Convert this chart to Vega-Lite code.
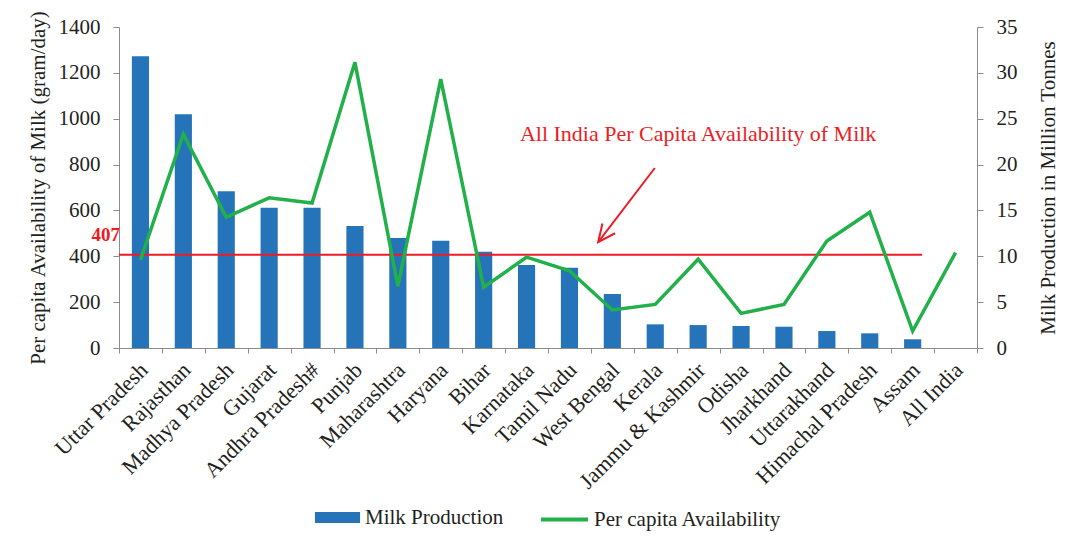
{
  "$schema": "https://vega.github.io/schema/vega-lite/v6.json",
  "width": 858,
  "height": 321,
  "autosize": {"type": "none"},
  "padding": {"left": 119, "top": 27, "right": 102, "bottom": 189},
  "background": "white",
  "config": {
    "view": {"stroke": null},
    "font": "Liberation Serif",
    "axis": {
      "labelFont": "Liberation Serif", "titleFont": "Liberation Serif",
      "labelFontSize": 21, "titleFontSize": 21, "titleFontWeight": "normal",
      "labelColor": "#231f20", "titleColor": "#231f20",
      "domainColor": "#8c8c8c", "tickColor": "#8c8c8c", "grid": false
    },
    "legend": {
      "labelFont": "Liberation Serif", "labelFontSize": 21, "labelColor": "#231f20", "labelLimit": 400,
      "layout": {"bottom": {"anchor": "middle", "direction": "horizontal", "margin": 35}}
    }
  },
  "datasets": {
    "states": [
      {"state": "Uttar Pradesh", "milk": 31.8, "pc": 384},
      {"state": "Rajasthan", "milk": 25.5, "pc": 932},
      {"state": "Madhya Pradesh", "milk": 17.1, "pc": 570},
      {"state": "Gujarat", "milk": 15.3, "pc": 655},
      {"state": "Andhra Pradesh#", "milk": 15.3, "pc": 632},
      {"state": "Punjab", "milk": 13.3, "pc": 1246},
      {"state": "Maharashtra", "milk": 12.0, "pc": 270},
      {"state": "Haryana", "milk": 11.7, "pc": 1173},
      {"state": "Bihar", "milk": 10.5, "pc": 265},
      {"state": "Karnataka", "milk": 9.05, "pc": 396},
      {"state": "Tamil Nadu", "milk": 8.76, "pc": 337},
      {"state": "West Bengal", "milk": 5.9, "pc": 166},
      {"state": "Kerala", "milk": 2.58, "pc": 190},
      {"state": "Jammu & Kashmir", "milk": 2.5, "pc": 387},
      {"state": "Odisha", "milk": 2.4, "pc": 151},
      {"state": "Jharkhand", "milk": 2.32, "pc": 190},
      {"state": "Uttarakhand", "milk": 1.85, "pc": 467},
      {"state": "Himachal Pradesh", "milk": 1.6, "pc": 592},
      {"state": "Assam", "milk": 0.95, "pc": 74},
      {"state": "All India", "milk": null, "pc": 416}
    ],
    "rule": [{"x0": 0, "x1": 18.72, "v": 407, "label": "407"}],
    "note": [{"xi": 13.5, "v": 933, "text": "All India Per Capita Availability of Milk"}],
    "arrow": [{"xt": 12.49, "yt": 785, "xh": 11.17, "yh": 462}]
  },
  "resolve": {"scale": {"x": "independent", "y": "independent"}},
  "layer": [
    {
      "data": {"name": "states"},
      "mark": {"type": "bar", "width": {"band": 0.4}, "color": "#2574BA"},
      "encoding": {
        "x": {
          "field": "state", "type": "nominal", "sort": null,
          "scale": {"domain": ["Uttar Pradesh","Rajasthan","Madhya Pradesh","Gujarat","Andhra Pradesh#","Punjab","Maharashtra","Haryana","Bihar","Karnataka","Tamil Nadu","West Bengal","Kerala","Jammu & Kashmir","Odisha","Jharkhand","Uttarakhand","Himachal Pradesh","Assam","All India"], "paddingInner": 0, "paddingOuter": 0},
          "axis": {"title": null, "labelAngle": -45, "labelFontSize": 22, "tickBand": "extent", "tickSize": 5, "labelPadding": 6, "labelOffset": -4, "labelLimit": 300}
        },
        "y": {
          "field": "milk", "type": "quantitative",
          "scale": {"domain": [0, 35]},
          "axis": {"orient": "right", "values": [0,5,10,15,20,25,30,35], "title": "Milk Production in Million Tonnes", "titleAngle": 270, "tickSize": 6, "labelPadding": 13, "titlePadding": 41}
        },
        "fill": {
          "datum": "Milk Production",
          "scale": {"range": ["#2574BA"]},
          "legend": {"title": null, "orient": "bottom", "symbolType": "M-0.96,-0.23H0.96V0.23H-0.96Z", "symbolSize": 2209, "symbolStrokeWidth": 0, "labelOffset": 4, "offset": 1}
        }
      }
    },
    {
      "data": {"name": "rule"},
      "mark": {"type": "rule", "color": "#ED1C24", "strokeWidth": 2},
      "encoding": {
        "x": {"field": "x0", "type": "quantitative", "scale": {"domain": [0, 20]}, "axis": null},
        "x2": {"field": "x1"},
        "y": {"field": "v", "type": "quantitative", "scale": {"domain": [0, 1400]}, "axis": null}
      }
    },
    {
      "data": {"name": "rule"},
      "mark": {"type": "text", "color": "#ED1C24", "fontWeight": "bold", "fontSize": 19, "font": "Liberation Serif", "align": "right", "baseline": "middle", "dx": 1, "dy": -20},
      "encoding": {
        "x": {"field": "x0", "type": "quantitative", "scale": {"domain": [0, 20]}, "axis": null},
        "y": {"field": "v", "type": "quantitative", "scale": {"domain": [0, 1400]}, "axis": null},
        "text": {"field": "label"}
      }
    },
    {
      "data": {"name": "states"},
      "mark": {"type": "line", "strokeWidth": 3.5, "color": "#22B04B"},
      "encoding": {
        "x": {
          "field": "state", "type": "nominal", "sort": null,
          "scale": {"domain": ["Uttar Pradesh","Rajasthan","Madhya Pradesh","Gujarat","Andhra Pradesh#","Punjab","Maharashtra","Haryana","Bihar","Karnataka","Tamil Nadu","West Bengal","Kerala","Jammu & Kashmir","Odisha","Jharkhand","Uttarakhand","Himachal Pradesh","Assam","All India"], "paddingInner": 0, "paddingOuter": 0},
          "axis": null
        },
        "y": {
          "field": "pc", "type": "quantitative",
          "scale": {"domain": [0, 1400]},
          "axis": {"orient": "left", "values": [0,200,400,600,800,1000,1200,1400], "format": "d", "title": "Per capita Availability of Milk (gram/day)", "tickSize": 6, "labelPadding": 13, "titlePadding": 10}
        },
        "stroke": {
          "datum": "Per capita Availability",
          "scale": {"range": ["#22B04B"]},
          "legend": {"title": null, "orient": "bottom", "symbolType": "stroke", "symbolSize": 2209, "symbolStrokeWidth": 4, "labelOffset": 4, "offset": 1}
        }
      }
    },
    {
      "data": {"name": "note"},
      "mark": {"type": "text", "color": "#ED1C24", "fontSize": 22, "font": "Liberation Serif", "align": "center", "baseline": "middle"},
      "encoding": {
        "x": {"field": "xi", "type": "quantitative", "scale": {"domain": [0, 20]}, "axis": null},
        "y": {"field": "v", "type": "quantitative", "scale": {"domain": [0, 1400]}, "axis": null},
        "text": {"field": "text"}
      }
    },
    {
      "data": {"name": "arrow"},
      "mark": {"type": "rule", "color": "#ED1C24", "strokeWidth": 2},
      "encoding": {
        "x": {"field": "xt", "type": "quantitative", "scale": {"domain": [0, 20]}, "axis": null},
        "x2": {"field": "xh"},
        "y": {"field": "yt", "type": "quantitative", "scale": {"domain": [0, 1400]}, "axis": null},
        "y2": {"field": "yh"}
      }
    },
    {
      "data": {"name": "arrow"},
      "mark": {"type": "point", "shape": "M-0.42,0.91L0,0L0.42,0.91", "filled": false, "color": "#ED1C24", "strokeWidth": 2, "size": 1444, "angle": 217.6, "opacity": 1},
      "encoding": {
        "x": {"field": "xh", "type": "quantitative", "scale": {"domain": [0, 20]}, "axis": null},
        "y": {"field": "yh", "type": "quantitative", "scale": {"domain": [0, 1400]}, "axis": null}
      }
    }
  ]
}
